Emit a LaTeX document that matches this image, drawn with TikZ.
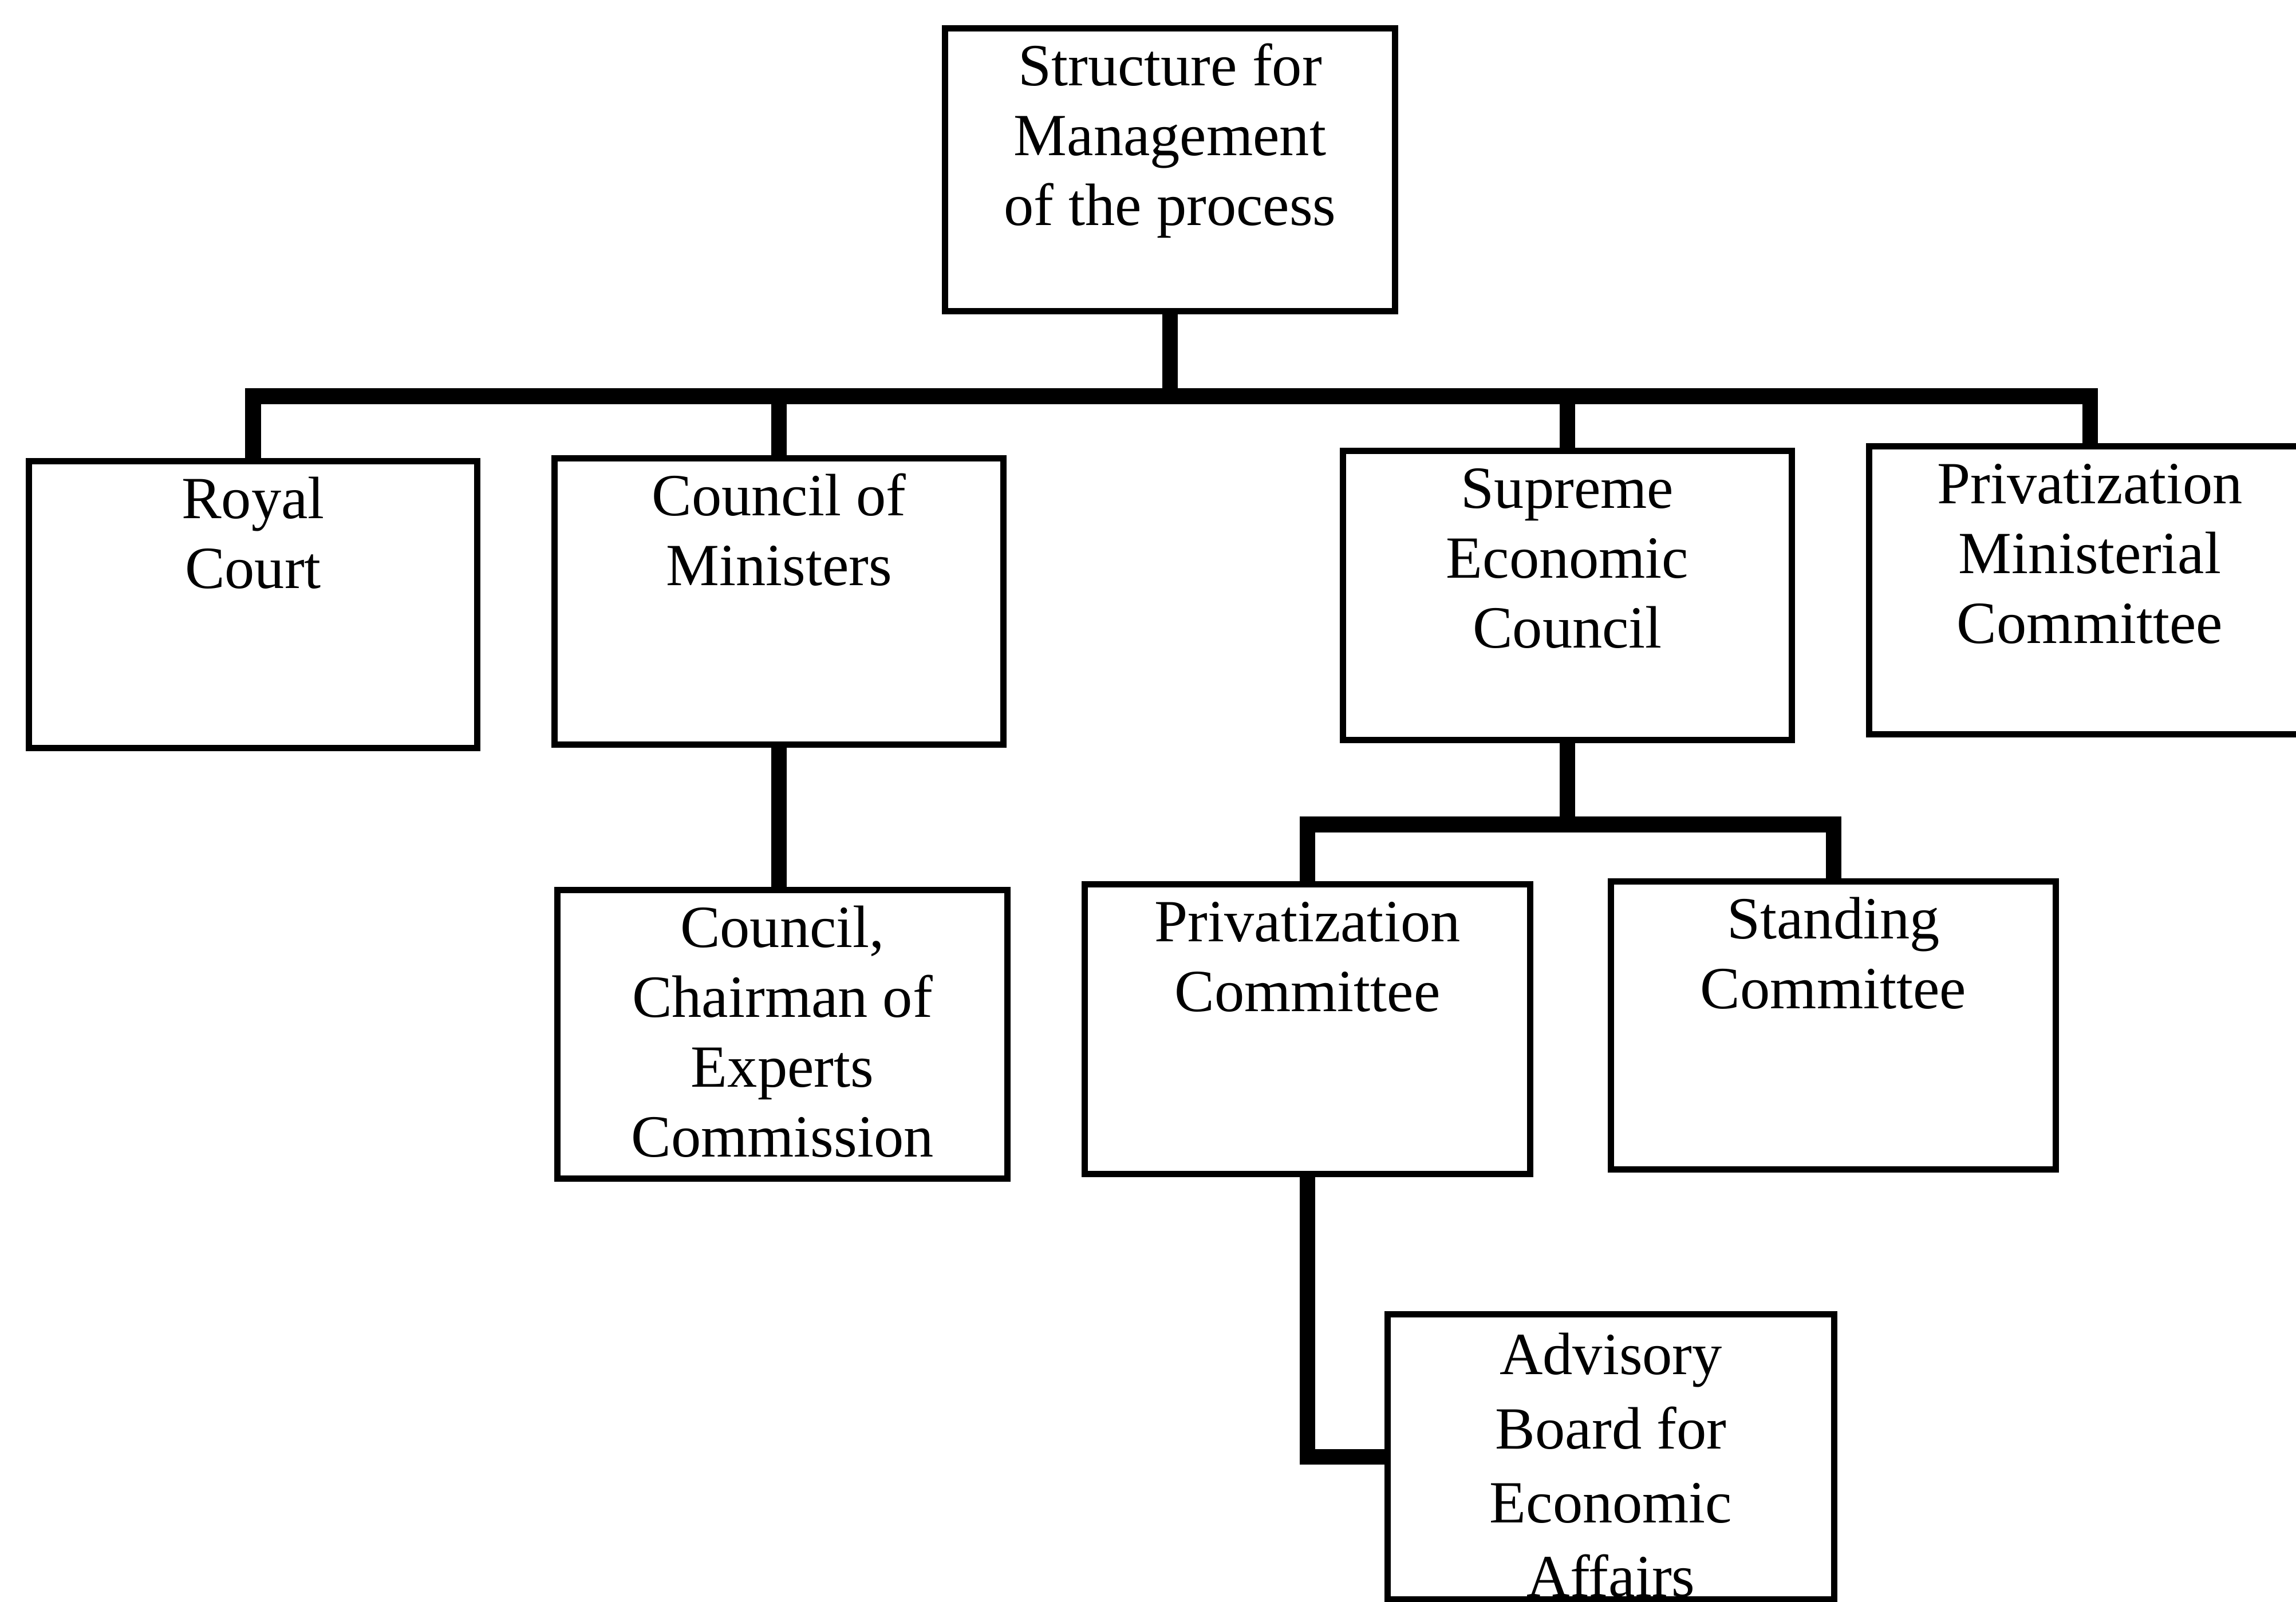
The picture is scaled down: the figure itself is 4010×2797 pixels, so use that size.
\documentclass[tikz,border=0pt]{standalone}
\usepackage{fontspec}
\setmainfont{Liberation Serif}
\begin{document}
\begin{tikzpicture}[x=0.01cm,y=-0.01cm,
  orgbox/.style={draw=black, line width=3.1pt, fill=white, inner sep=0pt},
  conn/.style={draw=black, line width=7.7pt, line join=miter, line cap=butt},
  lbl/.style={align=center, inner sep=0pt, anchor=north, yshift=-0.19cm,
    font=\fontsize{29.7}{34.7}\selectfont},
  lblwide/.style={lbl, font=\fontsize{29.7}{36.8}\selectfont}]

\useasboundingbox (0,0) rectangle (4010,2797);
\clip (0,0) rectangle (4010,2797);

% buses that join the connectors
\coordinate (busA) at (2043.5,692);
\coordinate (busB) at (2737.5,1440);

% boxes
\node[orgbox, minimum width=7.85cm, minimum height=4.93cm] (top) at (2043.5,296.5) {};
\node[orgbox, minimum width=7.82cm, minimum height=5.00cm] (rc)  at (442,1056) {};
\node[orgbox, minimum width=7.83cm, minimum height=4.99cm] (cm)  at (1360.5,1050.5) {};
\node[orgbox, minimum width=7.85cm, minimum height=5.03cm] (ce)  at (1366.5,1806.5) {};
\node[orgbox, minimum width=7.83cm, minimum height=5.04cm] (sec) at (2737.5,1040) {};
\node[orgbox, minimum width=7.70cm, minimum height=5.02cm] (pmc) at (3650,1031) {};
\node[orgbox, minimum width=7.77cm, minimum height=5.05cm] (pc)  at (2283.5,1797.5) {};
\node[orgbox, minimum width=7.76cm, minimum height=5.02cm] (sc)  at (3202,1791) {};
\node[orgbox, minimum width=7.79cm, minimum height=4.97cm] (ab)  at (2813.5,2544.5) {};

% connectors
\draw[conn] (top.south) -- (top.south |- busA);
\draw[conn] (rc.north) |- (busA) -| (pmc.north);
\draw[conn] (cm.north) -- (cm.north |- busA);
\draw[conn] (sec.north) -- (sec.north |- busA);
\draw[conn] (cm.south) -- (cm.south |- ce.north);
\draw[conn] (sec.south) -- (busB);
\draw[conn] (pc.north) |- (busB) -| (sc.north);
\draw[conn] (pc.south) |- (ab.west);

% box labels
\node[lbl] (top-t) at (top.north) {\strut Structure for\\Management\\of the process};
\node[lbl] (rc-t)  at (rc.north)  {\strut Royal\\Court};
\node[lbl] (cm-t)  at (cm.north)  {\strut Council of\\Ministers};
\node[lbl] (ce-t)  at (ce.north)  {\strut Council,\\Chairman of\\Experts\\Commission};
\node[lbl] (sec-t) at (sec.north) {\strut Supreme\\Economic\\Council};
\node[lbl] (pmc-t) at (pmc.north) {\strut Privatization\\Ministerial\\Committee};
\node[lbl] (pc-t)  at (pc.north)  {\strut Privatization\\Committee};
\node[lbl] (sc-t)  at (sc.north)  {\strut Standing\\Committee};
\node[lblwide] (ab-t) at (ab.north) {\strut Advisory\\Board for\\Economic\\Affairs};
\end{tikzpicture}
\end{document}
